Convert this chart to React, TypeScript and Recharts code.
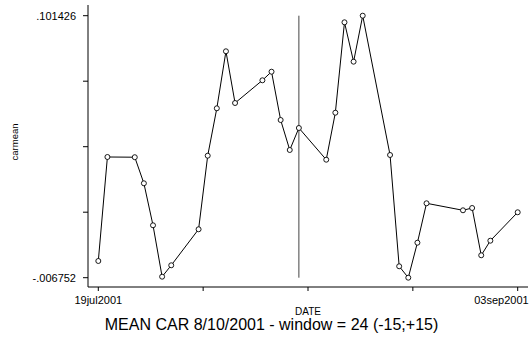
import React from 'react';
import { LineChart, Line, XAxis, YAxis, ReferenceLine } from 'recharts';

// trading days, counted from 19jul2001
const days = [0, 1, 4, 5, 6, 7, 8, 11, 12, 13, 14, 15, 18, 19, 20, 21, 22, 25, 26, 27, 28, 29, 32, 33, 34, 35, 36, 40, 41, 42, 43, 46];
const carmean = [
  0.000146, 0.04309, 0.043, 0.03223, 0.01489, -0.00634, -0.00163, 0.01324, 0.04362, 0.06319, 0.08673,
  0.06538, 0.07476, 0.0783, 0.05836, 0.04598, 0.05506, 0.04197, 0.06138, 0.0987, 0.08244, 0.101426,
  0.04391, -0.00204, -0.006752, 0.0077, 0.02397, 0.02108, 0.02203, 0.0025, 0.00853, 0.02026,
];
const xTicks = [0, 11.5, 23, 34.5, 46];
const xTickLabels: Record<number, string> = { 0: '19jul2001', 46: '03sep2001' };
const yMin = -0.006752;
const yMax = 0.101426;
const yTicks = [yMin, 0.0202926, 0.0473371, 0.0743815, yMax];
const eventDay = 22; // 10aug2001

const font = '"Liberation Sans", Arial, sans-serif';

const data = days.map((d, i) => ({ day: d, carmean: carmean[i] }));

const fmtY = (v: number) => (v === yMin || v === yMax ? v.toFixed(6).replace('0.', '.') : '');

const Dot = (props: any) => {
  const { cx, cy } = props;
  return <circle cx={cx} cy={cy} r={2.5} fill="#fff" stroke="#000" strokeWidth={0.9} />;
};

// last label is pushed left so it stays inside the frame, like the original
const XTick = (props: any) => {
  const { x, y, payload } = props;
  const label = xTickLabels[payload.value];
  if (!label) return null;
  const last = payload.value === xTicks[xTicks.length - 1];
  return (
    <text
      x={last ? x + 11 : x}
      y={y}
      dy="0.71em"
      textAnchor={last ? 'end' : 'middle'}
      fontSize={11}
      fontFamily={font}
      fill="#000"
    >
      {label}
    </text>
  );
};

export default function App() {
  return (
    <div style={{ position: 'absolute', left: 0, top: 0, width: 532, height: 341, background: '#fff' }}>
      <LineChart width={532} height={341} data={data} margin={{ top: 5, right: 4, bottom: 0, left: 0 }}>
        <XAxis
          dataKey="day"
          type="number"
          domain={[-1.13, 47.13]}
          ticks={xTicks}
          interval={0}
          height={54}
          tickSize={4}
          tickMargin={5}
          stroke="#000"
          tickLine={{ stroke: '#000' }}
          tick={<XTick />}
          label={{
            content: (p: any) => {
              const vb = p.viewBox;
              const cx = vb.x + vb.width / 2;
              return (
                <g fontFamily={font} fill="#000">
                  <text x={cx} y={315} textAnchor="middle" fontSize={10}>DATE</text>
                  <text x={271.5} y={330} textAnchor="middle" fontSize={16}>
                    MEAN CAR 8/10/2001 - window = 24 (-15;+15)
                  </text>
                </g>
              );
            },
          }}
        />
        <YAxis
          type="number"
          domain={[-0.010592, 0.105844]}
          ticks={yTicks}
          interval={0}
          width={88}
          tickSize={5}
          tickMargin={7}
          stroke="#000"
          tickLine={{ stroke: '#000' }}
          tick={{ fill: '#000', fontSize: 11, fontFamily: font }}
          tickFormatter={fmtY}
          label={{
            content: () => (
              <text
                x={14}
                y={142}
                transform="rotate(-90, 14, 142)"
                textAnchor="middle"
                dominantBaseline="central"
                fontSize={9.5}
                fontFamily={font}
                fill="#000"
              >
                carmean
              </text>
            ),
          }}
        />
        <ReferenceLine
          segment={[{ x: eventDay, y: yMin }, { x: eventDay, y: yMax }]}
          stroke="#444"
          strokeWidth={1}
        />
        <Line
          type="linear"
          dataKey="carmean"
          stroke="#000"
          strokeWidth={1}
          dot={<Dot />}
          activeDot={false}
          isAnimationActive={false}
        />
      </LineChart>
    </div>
  );
}
